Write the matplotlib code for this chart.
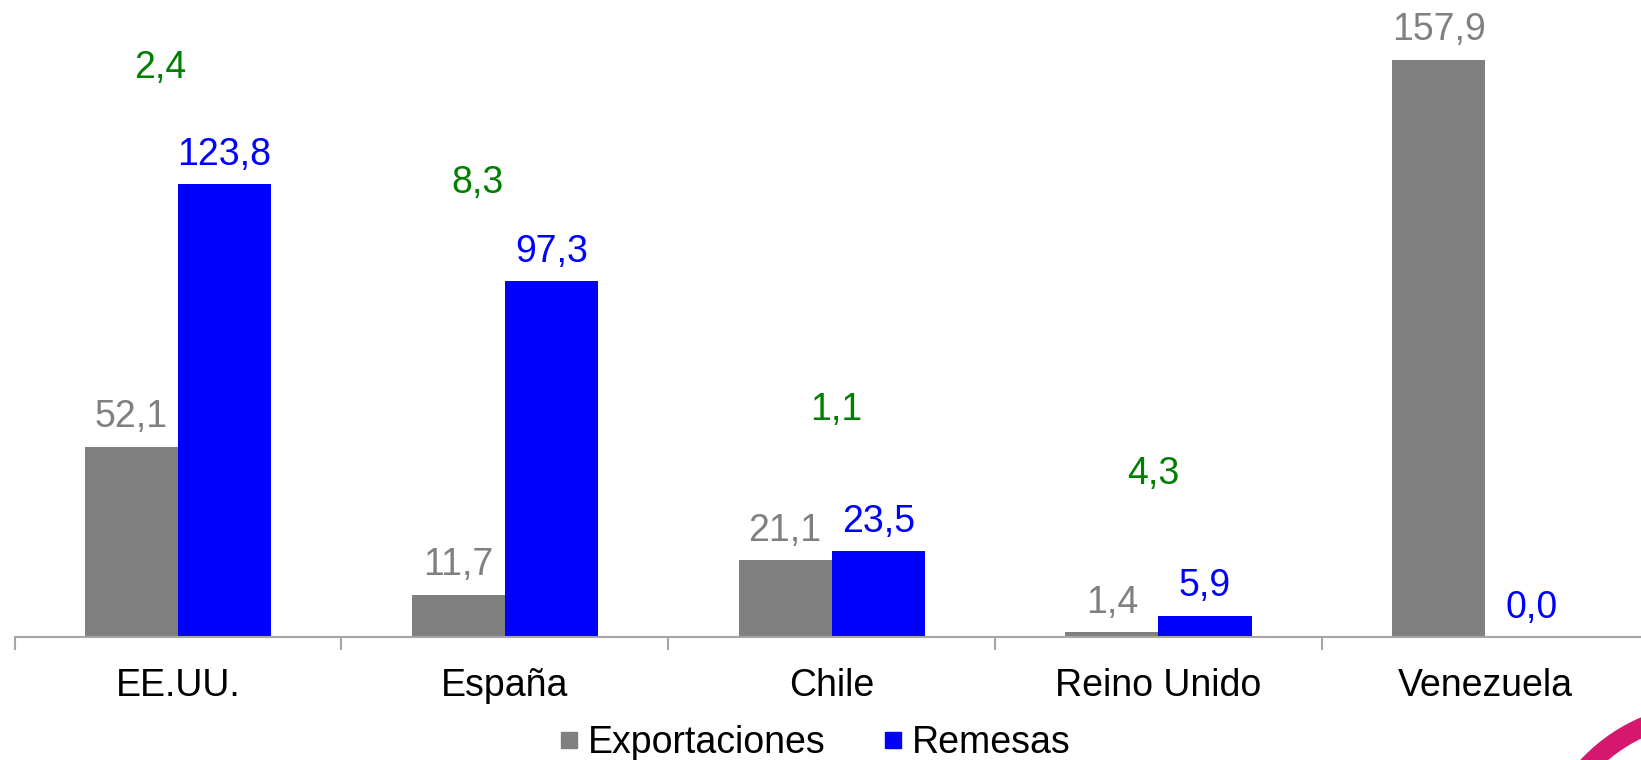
import numpy as np
import matplotlib
matplotlib.use("Agg")
from matplotlib import pyplot as plt
from matplotlib.lines import Line2D
from matplotlib.patches import Wedge

plt.rcParams['font.family'] = ['Liberation Sans', 'DejaVu Sans']

# datos
paises = ['EE.UU.', 'España', 'Chile', 'Reino Unido', 'Venezuela']
exportaciones = [52.1, 11.7, 21.1, 1.4, 157.9]
remesas = [123.8, 97.3, 23.5, 5.9, 0.0]
ratio = [2.4, 8.3, 1.1, 4.3]
# posición de las etiquetas verdes (unidades del eje)
ratio_y = [155.6, 124.2, 62.2, 44.7]
ratio_dx = [-0.055, -0.085, 0.015, -0.015]

gris = '#808080'
azul = '#0000FF'
verde = '#008000'

def fmt(v):
    return f'{v:.1f}'.replace('.', ',')

fig = plt.figure(figsize=(16.41, 7.6), dpi=100)
ax = fig.add_axes([0.0089, 0.1612, 0.9958, 0.8388])

x = np.arange(len(paises))
w = 0.285
b1 = ax.bar(x - w / 2, exportaciones, w, color=gris, label='Exportaciones')
b2 = ax.bar(x + w / 2, remesas, w, color=azul, label='Remesas')

for rect, v in zip(b1, exportaciones):
    ax.annotate(fmt(v), (rect.get_x() + rect.get_width() / 2, rect.get_height()),
                xytext=(0, 14), textcoords='offset points', ha='center',
                va='baseline', fontsize=27, color=gris)
for rect, v in zip(b2, remesas):
    ax.annotate(fmt(v), (rect.get_x() + rect.get_width() / 2, rect.get_height()),
                xytext=(0, 14), textcoords='offset points', ha='center',
                va='baseline', fontsize=27, color=azul)
for i, v in enumerate(ratio):
    ax.text(x[i] + ratio_dx[i], ratio_y[i], fmt(v), ha='center', va='center',
            fontsize=27, color=verde)

ax.set_xlim(-0.5, len(paises) - 0.5)
ax.set_ylim(0, 174.2)
ax.set_yticks([])
for s in ['top', 'right', 'left']:
    ax.spines[s].set_visible(False)
ax.spines['bottom'].set_color('#A6A6A6')
ax.spines['bottom'].set_linewidth(1.5)

ax.set_xticks(x)
ax.set_xticklabels(paises, fontsize=27)
ax.set_xticks(np.arange(len(paises) + 1) - 0.5, minor=True)
ax.tick_params(axis='x', which='major', length=0, pad=22)
ax.tick_params(axis='x', which='minor', length=9, width=1.5, color='#A6A6A6')

handles = [Line2D([], [], marker='s', ls='', markersize=12, color=gris),
           Line2D([], [], marker='s', ls='', markersize=12, color=azul)]
fig.legend(handles, ['Exportaciones', 'Remesas'], loc='center',
           bbox_to_anchor=(0.495, 0.022), ncol=2, frameon=False, fontsize=27,
           handletextpad=0.1, columnspacing=1.4, handlelength=0.8,
           borderpad=0)

# arco decorativo
deco = fig.add_axes([0, 0, 1, 1], zorder=-1)
deco.set_xlim(0, 1641)
deco.set_ylim(760, 0)
deco.axis('off')
deco.add_patch(Wedge((1710, 880), 176, 0, 360, width=18, color='#D6176F'))

plt.savefig('out.png', dpi=100)
